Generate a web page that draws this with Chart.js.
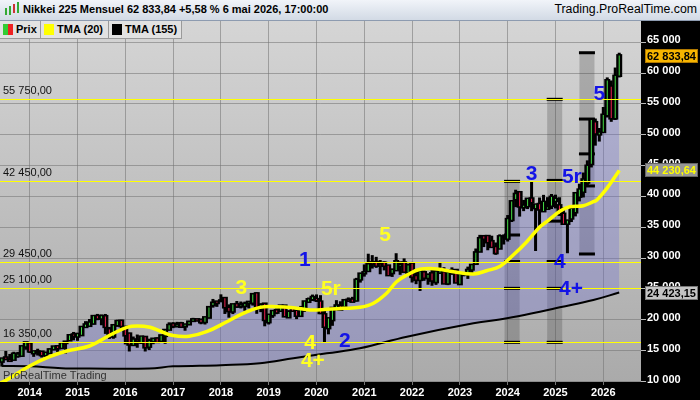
<!DOCTYPE html>
<html><head><meta charset="utf-8">
<script src="https://cdn.jsdelivr.net/npm/chart.js@4.4.1/dist/chart.umd.min.js"></script>
<style>
html,body{margin:0;padding:0;background:#000;width:700px;height:400px;overflow:hidden;font-family:"Liberation Sans",Arial,sans-serif;}
#wrap{position:relative;width:700px;height:400px;}
#cv{position:absolute;left:0;top:0;}
#hdr{position:absolute;left:0;top:0;width:700px;height:21px;background:linear-gradient(#f1f4f9,#d2dae5);border-bottom:1px solid #8d9bb0;box-sizing:border-box;}
#hdr .t{position:absolute;left:23px;top:3px;font-weight:bold;font-size:11px;color:#000;white-space:nowrap;}
#hdr .s{position:absolute;right:3px;top:2px;font-size:12.3px;color:#000;white-space:nowrap;}
.ic{position:absolute;width:2px;}
#leg{position:absolute;left:0;top:21px;height:18px;}
.cell{position:absolute;top:0;height:18px;background:#e2e2e2;border-right:1px solid #9a9a9a;border-bottom:1px solid #9a9a9a;box-sizing:border-box;font-size:11px;font-weight:bold;color:#000;line-height:17px;white-space:nowrap;}
.sw{position:absolute;top:3px;width:10px;height:11px;}
</style></head>
<body><div id="wrap">
<canvas id="cv" width="700" height="400"></canvas>
<div id="hdr">
 <div class="ic" style="left:5px;top:8px;height:7px;background:#3a3;"></div>
 <div class="ic" style="left:9px;top:6px;height:9px;background:#3a3;"></div>
 <div class="ic" style="left:13px;top:4px;height:9px;background:#c33;"></div>
 <div class="ic" style="left:17px;top:2px;height:11px;background:#3a3;"></div>
 <div class="t">Nikkei 225 Mensuel 62 833,84 +5,58 % 6 mai 2026, 17:00:00</div>
 <div class="s">Trading.ProRealTime.com</div>
</div>
<div id="leg">
 <div class="cell" style="left:0;width:41px;"><span class="sw" style="left:3px;background:linear-gradient(90deg,#3c3 50%,#e22 50%);"></span><span style="position:absolute;left:16px;">Prix</span></div>
 <div class="cell" style="left:41px;width:68px;"><span class="sw" style="left:3px;background:#ff0;"></span><span style="position:absolute;left:16px;">TMA (20)</span></div>
 <div class="cell" style="left:109px;width:73px;"><span class="sw" style="left:3px;background:#000;"></span><span style="position:absolute;left:16px;">TMA (155)</span></div>
</div>
</div>
<script>
// ---- DATA ----
const firstMonthIndex = -7; // June 2013, month index relative to Jan 2014
const openP = [
 13261,13852,13465,13572,14171,14219,15706,
 16147,14619,14827,14791,14288,14668,15255,15669,15465,16283,16720,17590,
 17325,17558,18887,19062,19428,20569,20256,20550,18437,17330,19164,19808,
 18818,17721,15962,16719,16357,17178,15682,16545,16911,16598,17442,18447,
 19298,18997,19393,18983,19310,19860,20037,19985,19691,20400,22420,22916,
 23073,23486,21932,21389,22502,22219,22288,22745,22797,24245,22144,22575,
 19655,20797,21526,21509,22258,20448,21784,21409,20682,21831,22960,23388,
 23319,22910,20850,18686,19991,21961,22214,22198,23213,23251,23186,26591,
 27575,27960,29276,29318,28926,29203,28753,27612,28090,28768,29251,27693,
 29098,27078,26509,27665,26818,27502,26153,27673,27661,25936,27678,28033,
 25834,27402,27596,28203,29123,31108,33517,33537,32710,31759,31601,33451,
 33193,36219,39566,40646,38274,38467,39631,38140,38735,37651,38053,38513,
 39307,38520,37155,35624,36473,37470,40000,40800,42300,45300,52000,50100,
 50500,53200,57800,52700,59600];
const highP = [
 13711,14953,14466,14817,14799,15749,16320,
 16164,14918,15312,14791,14742,15376,15759,15709,16374,16533,17520,18030,
 17850,18826,19778,20133,20655,20953,20851,20946,18844,19116,20012,20012,
 18951,17905,17291,17613,17251,17204,16938,16977,17175,17473,18369,19592,
 19615,19668,19668,19289,19832,20318,20197,20081,20481,22012,23382,23000,
 24129,23486,22502,22467,23050,22966,22949,22869,24120,24448,22698,22698,
 20892,21556,21860,22307,22307,21544,21823,21409,22255,23008,23608,24091,
 24116,23995,21719,20365,21878,23185,23004,23338,23626,23725,26800,27602,
 28979,30714,30485,30208,29685,29481,28852,28266,30795,29489,29960,29121,
 29388,27880,28338,28007,27458,28389,27914,29222,28532,27587,28502,28227,
 27433,27697,28623,28879,31560,33772,33753,33537,33634,32533,33853,33853,
 36984,39426,41087,40697,39437,39637,42426,38736,39829,40257,39884,40398,
 40288,39866,38220,36046,38494,40487,42065,43876,45852,52636,52637,51100,
 54500,59300,58800,60900,63300];
const lowP = [
 12415,13784,13188,13494,13853,14016,15144,
 14620,13995,14203,13885,13965,14633,15103,14753,15410,14529,16720,16672,
 16592,17558,18780,19035,19257,19933,19115,17714,16901,16930,18866,18410,
 16017,14865,15944,15471,16078,14864,15093,16047,16268,16557,16111,18410,
 18650,18805,18909,18225,19270,19662,19860,19280,19239,20400,21972,22099,
 23073,20950,20347,20929,21931,21850,21462,21851,22307,20971,21243,18948,
 19241,20315,20911,21509,20601,20289,21278,20110,20540,21277,22840,23044,
 22892,20916,16358,17646,19025,21529,21710,22104,22878,22948,22948,26034,
 27002,27960,28308,28418,27385,28010,27272,26954,28090,27293,27588,27588,
 26044,25776,24682,26319,25688,25520,25662,27594,25937,25621,27288,25953,
 25662,27049,26633,27427,28929,31108,31791,31275,31857,30538,31601,32205,
 32693,35855,38271,36733,37617,37950,37611,31156,35247,37651,37800,37960,
 38055,36857,35617,30793,35848,36767,39199,39837,41835,44700,48235,48900,
 50300,52800,52100,52400,59300];
const closeP = [
 13677,13668,13389,14456,14328,15662,16291,
 14915,14841,14828,14304,14632,15162,15621,15425,16174,16414,17460,17451,
 17674,18798,19207,19520,20563,20236,20585,18890,17388,19083,19747,19034,
 17518,16027,16759,16666,17235,15576,16569,16887,16450,17425,18308,19114,
 19041,19119,18909,19197,19651,20033,19925,19646,20356,22012,22725,22765,
 23098,22068,21454,22468,22202,22305,22554,22865,24120,21920,22351,20015,
 20773,21385,21206,22259,20601,21276,21522,20704,21756,22927,23294,23657,
 23205,21143,18917,20194,21878,22288,21710,23140,23185,22977,26434,27444,
 27663,28966,29179,28813,28860,28792,27284,28090,29453,28893,27822,28792,
 27002,26527,27821,26848,27280,26393,27802,28092,25937,27587,27968,26095,
 27327,27446,28041,28856,30888,33189,33172,32619,31858,30859,33487,33464,
 36287,39166,40369,38406,38488,39583,39102,38648,37920,39081,38208,39895,
 39572,37156,35618,36045,37965,40487,41070,42718,44933,52411,50254,50339,
 53200,58800,52700,59512,62833.84];

// TMA(20): month index / value
const tma20X = [-7.5,-5.8,0,5,9.3,15,20.2,24.4,27,30.2,33,36,40,44.4,49.5,53.6,57.8,62,66.2,70.4,74.6,78.7,82.9,86.3,89.6,92.1,94.7,98,102.2,106.4,111.4,114.7,118.1,121.4,124.8,128.1,129.8,133.1,135.6,139,141.5,142.4,144.9,147.8,148];
const tma20Y = [9700,10240,12510,14020,14940,15750,17530,18780,19000,18780,18100,17450,17330,18070,19690,21050,22020,22120,21960,21590,21700,21860,22020,22680,24300,26180,27260,28190,28240,27800,27430,27960,28700,30510,32660,35100,35900,37600,38340,38500,39150,39420,41300,44010,44230.64];
// TMA(155)
const tma155X = [-7,0,8,15,30,36,48,57.8,66.2,74.6,82.9,94.7,111.4,119.8,128.1,133.1,141.5,148];
const tma155Y = [12500,12450,12150,12100,12100,12450,12650,12950,13760,14570,15380,17260,19430,20240,21310,22020,23210,24423.15];

const yearLabels = [2014,2015,2016,2017,2018,2019,2020,2021,2022,2023,2024,2025,2026];
const priceTicks = [10000,15000,20000,25000,30000,35000,40000,45000,50000,55000,60000,65000];
const levelValues = [55750,42450,29450,25100,16350];

const boxX = [121.1,131.8,139.9];
const boxLow = [16350,16350,30670];
const boxHigh = [42450,55750,63300];
const boxMarkX = [121.1,121.1,121.1,121.1,121.1,131.8,131.8,131.8,131.8,131.8,131.8,139.9,139.9,139.9,139.9,139.9];
const boxMarkY = [42450,33750,29450,25100,16350,55750,42600,36000,29450,25100,16350,63300,52550,46900,41700,30670];

const blueWaveText = ['1','2','3','5r','4','4+','5'];
const blueWaveX = [69.1,79.1,126.0,136.1,133.1,135.9,143.0];
const blueWaveY = [29700,16560,43640,43150,29370,24990,56610];
const yellowWaveText = ['3','5r','4','4+','5'];
const yellowWaveX = [53.1,75.6,70.4,71.1,89.2];
const yellowWaveY = [25150,24990,16240,13320,33750];

const lastClose = 62833.84, lastTma20 = 44230.64, lastTma155 = 24423.15;
const xRange = [-7.46, 153.47];
const yRange = [9916, 68445];

// ---- helpers ----
function fmt(v, dec){
  const s = v.toFixed(dec); const parts = s.split('.');
  const i = parts[0].replace(/\B(?=(\d{3})+(?!\d))/g,' ');
  return parts[1] ? i + ',' + parts[1] : i;
}
const FONT = '"Liberation Sans", Arial, sans-serif';
const monthX = closeP.map((_, i) => firstMonthIndex + i);
const UP = '#45dd45', DOWN = '#ee2050';
const AREA = 'rgba(105,105,215,0.30)';

const bgPlugin = {
  id:'bg',
  beforeDraw(chart){
    const {ctx, chartArea:a, width, height} = chart;
    ctx.save();
    ctx.fillStyle = '#000'; ctx.fillRect(0,0,width,height);
    const g = ctx.createLinearGradient(0,a.top,0,a.bottom);
    g.addColorStop(0,'#d5d5d5'); g.addColorStop(1,'#aaaaaa');
    ctx.fillStyle = g; ctx.fillRect(a.left,a.top,a.right-a.left,a.bottom-a.top);
    ctx.restore();
  }
};
const overlayPlugin = {
  id:'overlay',
  afterDatasetsDraw(chart){
    const {ctx, chartArea:a, scales:{x,y}} = chart;
    ctx.save();
    ctx.beginPath(); ctx.rect(a.left,a.top,a.right-a.left,a.bottom-a.top); ctx.clip();
    ctx.strokeStyle = '#ffff00'; ctx.lineWidth = 1;
    levelValues.forEach(v => {
      const py = Math.round(y.getPixelForValue(v)) + 0.5;
      ctx.beginPath(); ctx.moveTo(a.left,py); ctx.lineTo(a.right,py); ctx.stroke();
    });
    ctx.fillStyle = '#111'; ctx.font = '11px ' + FONT; ctx.textAlign = 'left'; ctx.textBaseline = 'alphabetic';
    levelValues.forEach(v => {
      const py = y.getPixelForValue(v);
      ctx.fillText(fmt(v,2), a.left + 3, py - 5);
    });
    ctx.font = 'bold 21px ' + FONT; ctx.textAlign = 'center'; ctx.textBaseline = 'middle';
    ctx.fillStyle = '#1414e6';
    blueWaveText.forEach((t,i) => ctx.fillText(t, x.getPixelForValue(blueWaveX[i]), y.getPixelForValue(blueWaveY[i])));
    ctx.fillStyle = '#ffff22';
    yellowWaveText.forEach((t,i) => ctx.fillText(t, x.getPixelForValue(yellowWaveX[i]), y.getPixelForValue(yellowWaveY[i])));
    ctx.font = '11px ' + FONT; ctx.textAlign = 'left'; ctx.textBaseline = 'middle'; ctx.fillStyle = '#333';
    ctx.fillText('ProRealTime Trading', a.left + 3, a.bottom - 6);
    ctx.restore();
  },
  afterDraw(chart){
    const {ctx, chartArea:a, scales:{y}} = chart;
    ctx.save();
    ctx.font = 'bold 11px ' + FONT; ctx.textAlign = 'left'; ctx.textBaseline = 'middle';
    const badges = [[lastClose,'#f7b500','#000','#b07800'],[lastTma20,'#969696','#ffff00','#666'],[lastTma155,'#c4c4c4','#000','#777']];
    badges.forEach(b => {
      const py = Math.round(y.getPixelForValue(b[0]));
      ctx.fillStyle = b[1]; ctx.fillRect(a.right+4, py-7, 53, 14);
      ctx.strokeStyle = b[3]; ctx.lineWidth = 1; ctx.strokeRect(a.right+4.5, py-6.5, 52, 13);
      ctx.fillStyle = b[2]; ctx.fillText(fmt(b[0],2), a.right+6, py+0.5);
    });
    ctx.restore();
  }
};

const candleBase = {type:'bar', grouped:false, borderWidth:0};
new Chart(document.getElementById('cv'), {
  type:'bar',
  data:{ datasets:[
    {type:'bar', grouped:false, data: boxX.map((v,i)=>({x:v, y:[boxLow[i], boxHigh[i]]})), backgroundColor:'rgba(55,55,55,0.25)', barThickness:15, inflateAmount:0, order:30},
    {type:'line', data: monthX.map((v,i)=>({x:v, y:closeP[i]})), fill:{target:2}, backgroundColor:AREA, borderWidth:0, pointRadius:0, order:25},
    {type:'line', data: tma155X.map((v,i)=>({x:v, y:tma155Y[i]})), borderColor:'#000', borderWidth:2, pointRadius:0, tension:0.4, fill:false, order:20},
    {type:'line', data: boxMarkX.map((v,i)=>({x:v, y:boxMarkY[i]})), showLine:false, pointStyle:'line', pointRadius:8, pointBorderWidth:3, pointBorderColor:'#000', borderColor:'#000', order:18},
    Object.assign({}, candleBase, {data: monthX.map((v,i)=>({x:v, y:[lowP[i], highP[i]]})), backgroundColor:'#000', barThickness:3, inflateAmount:0, order:12}),
    Object.assign({}, candleBase, {data: monthX.map((v,i)=>({x:v, y:[Math.min(openP[i],closeP[i]), Math.max(openP[i],closeP[i])]})), backgroundColor:'#000', barThickness:3, inflateAmount:1.5, order:11}),
    Object.assign({}, candleBase, {data: monthX.map((v,i)=>({x:v, y:[openP[i], closeP[i]]})), backgroundColor: closeP.map((c,i)=> c >= openP[i] ? UP : DOWN), barThickness:1, inflateAmount:0, order:10}),
    {type:'line', data: tma20X.map((v,i)=>({x:v, y:tma20Y[i]})), borderColor:'#ffff00', borderWidth:3.5, pointRadius:0, tension:0.4, fill:false, order:2},
  ]},
  options:{
    responsive:false, animation:false, devicePixelRatio:1, events:[],
    layout:{autoPadding:false, padding:{top:21,left:0,right:0,bottom:0}},
    plugins:{legend:{display:false}, tooltip:{enabled:false}},
    scales:{
      x:{type:'linear', min:xRange[0], max:xRange[1], offset:false,
        grid:{color:'rgba(115,115,115,0.55)', offset:false, tickLength:3, tickColor:'#777'},
        border:{display:false},
        afterBuildTicks(s){ s.ticks = yearLabels.map(yv => ({value:(yv-2014)*12})); },
        ticks:{autoSkip:false, maxRotation:0, padding:1, color:'#fff', font:{family:FONT, size:11, weight:'bold'},
          callback:(v)=> String(2014 + Math.round(v/12))},
        afterFit(s){ s.height = 18; s.paddingLeft = 0; s.paddingRight = 0; }
      },
      y:{type:'linear', position:'right', min:yRange[0], max:yRange[1], beginAtZero:false,
        grid:{color:'rgba(115,115,115,0.55)', tickLength:5, tickColor:'#bbb'},
        border:{display:false},
        afterBuildTicks(s){ s.ticks = priceTicks.map(v => ({value:v})); },
        ticks:{padding:1, labelOffset:-2, color:'#fff', font:{family:FONT, size:11, weight:'bold'}, callback:(v)=> fmt(v,0)},
        afterFit(s){ s.width = 59; s.paddingTop = 0; s.paddingBottom = 0; }
      }
    }
  },
  plugins:[bgPlugin, overlayPlugin]
});
</script>
</body></html>
